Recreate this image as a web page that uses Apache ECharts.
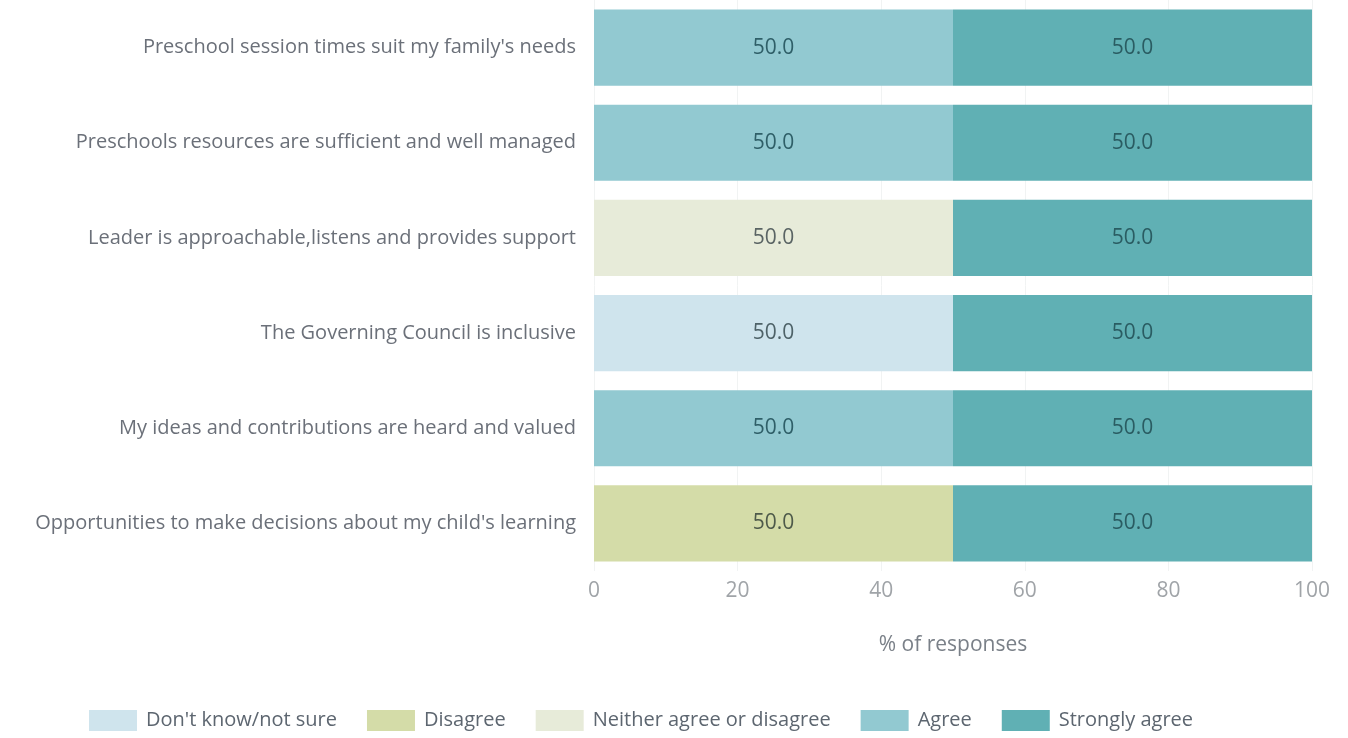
<!DOCTYPE html>
<html>
<head>
<meta charset="utf-8">
<script src="https://cdn.jsdelivr.net/npm/echarts@6/dist/echarts.min.js"></script>
<style>
  html, body { margin: 0; padding: 0; background: #fff; }
  #chart { width: 1348px; height: 738px; }
</style>
</head>
<body>
<div id="chart"></div>
<script>
// categories, top to bottom
const questions = [
  "Preschool session times suit my family's needs",
  "Preschools resources are sufficient and well managed",
  "Leader is approachable,listens and provides support",
  "The Governing Council is inclusive",
  "My ideas and contributions are heard and valued",
  "Opportunities to make decisions about my child's learning"
];

const responseTypes = ["Don't know/not sure", "Disagree", "Neither agree or disagree", "Agree", "Strongly agree"];

// % of responses per question
const dontKnow = [0, 0, 0, 50, 0, 0];
const disagree = [0, 0, 0, 0, 0, 50];
const neither = [0, 0, 50, 0, 0, 0];
const agree = [50, 50, 0, 0, 50, 0];
const stronglyAgree = [50, 50, 50, 50, 50, 50];

const xTicks = [0, 20, 40, 60, 80, 100];

const colours = ['#cfe4ed', '#d4dca8', '#e7ebd9', '#92c9d1', '#60b0b4'];
const labelColours = ['#4e6268', '#4e5a4a', '#5a6464', '#2f5f68', '#2a5c62'];

const seriesValues = [dontKnow, disagree, neither, agree, stronglyAgree];

function buildSeries() {
  return responseTypes.map((name, i) => ({
    name: name,
    type: 'bar',
    stack: 'total',
    barCategoryGap: '20%',
    data: seriesValues[i],
    itemStyle: { color: colours[i] },
    label: {
      show: true,
      position: 'inside',
      fontSize: 21,
      fontFamily: 'Open Sans',
      color: labelColours[i],
      formatter: p => p.value > 0 ? p.value.toFixed(1) : ''
    }
  }));
}

const chart = echarts.init(document.getElementById('chart'));

chart.setOption({
  animation: false,
  textStyle: { fontFamily: 'Open Sans' },
  grid: { left: 594, right: 36, top: 0, height: 571 },
  legend: {
    data: responseTypes,
    bottom: 2,
    left: 84,
    itemWidth: 48,
    itemHeight: 21,
    itemGap: 30,
    icon: 'rect',
    textStyle: { fontSize: 20, color: '#5d6670', fontFamily: 'Open Sans', padding: [0, 0, 0, 4] }
  },
  xAxis: {
    type: 'value',
    min: 0,
    max: 100,
    interval: 20,
    name: '% of responses',
    nameLocation: 'middle',
    nameGap: 64,
    nameTextStyle: { fontSize: 21, color: '#7a8088' },
    axisLine: { show: false },
    axisTick: { show: false },
    axisLabel: {
      fontSize: 21,
      color: '#a0a4a8',
      margin: 10,
      formatter: v => xTicks.includes(v) ? String(v) : ''
    },
    splitLine: { show: true, lineStyle: { color: '#f1f3f3', width: 1 } }
  },
  yAxis: {
    type: 'category',
    inverse: true,
    data: questions,
    axisLine: { show: false },
    axisTick: { show: false },
    axisLabel: { fontSize: 20, color: '#6b7079', margin: 18 }
  },
  series: buildSeries()
});
</script>
</body>
</html>
